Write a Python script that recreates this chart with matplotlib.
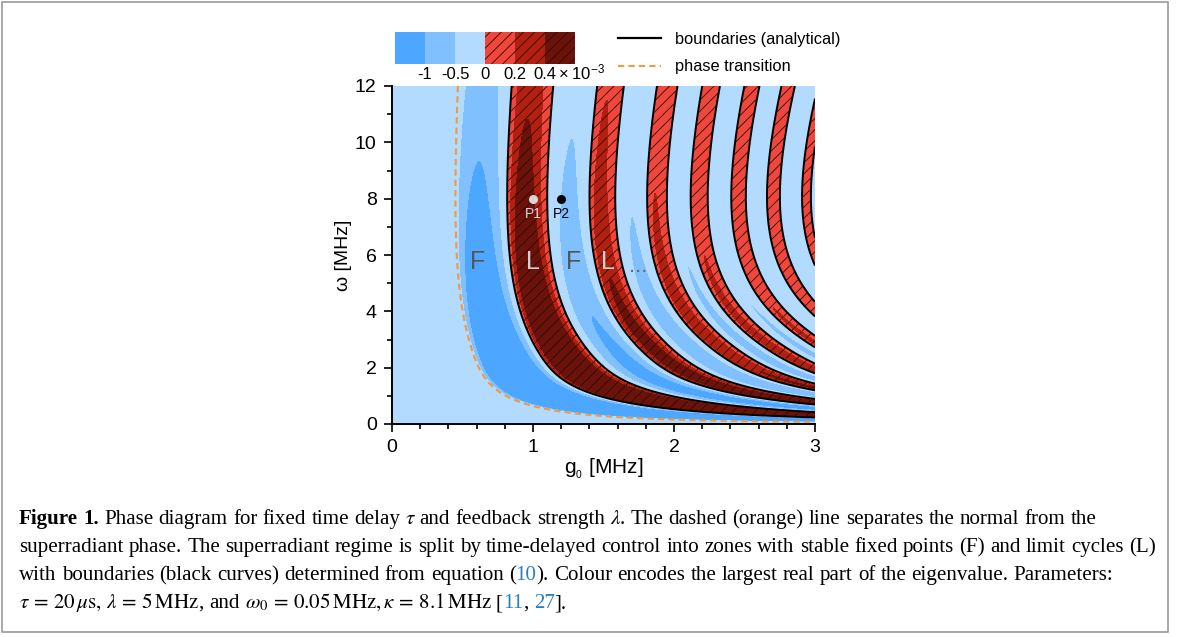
import numpy as np
import matplotlib.pyplot as plt
from matplotlib.lines import Line2D
from matplotlib.patches import Rectangle

plt.rcParams['font.family'] = ['Liberation Sans', 'DejaVu Sans']
plt.rcParams['mathtext.fontset'] = 'custom'
plt.rcParams['mathtext.rm'] = 'Liberation Sans'
plt.rcParams['mathtext.it'] = 'Liberation Sans:italic'
plt.rcParams['hatch.linewidth'] = 0.6
plt.rcParams['hatch.color'] = '#2b0b06'

# parameters from the caption (MHz, microseconds)
tau = 20.0
lam = 5.0
omega0 = 0.05
kappa = 8.1

# colour scale: largest real part of the eigenvalue, units of 1e-3
levels = [-1.0, -0.5, 0.0, 0.2, 0.4]
level_labels = ['-1', '-0.5', '0', '0.2', '0.4']
colors = ['#4da6ff', '#80c0ff', '#b3daff', '#f0473c', '#b3200f', '#6b130a']
hatches = [None, None, None, '///', '///', '///']

# limit-cycle bands: start / end of each band in delay phase (units of pi)
band_start = [1.0, 3.07, 5.14, 7.05, 9.1, 11.12, 13.3, 15.4]
band_end = [1.88, 3.93, 5.97, 7.88, 9.9, 11.9, 13.88, 15.9]

# strength of the tongues
blue_amp = 6.0
red_amp = 7.1
amp_scale = 9.1
blue_power = 0.6
red_power = 0.9

# marked points and zone labels
point_g = [1.0, 1.2]
point_w = [8.0, 8.0]
point_names = ['P1', 'P2']
point_colors = ['#d6d6d6', 'black']
zone_g = [0.61, 1.0, 1.29, 1.53]
zone_w = 5.75
zone_text = ['F', 'L', 'F', 'L']
zone_colors = ['#555555', '#d0d0d0', '#555555', '#d0d0d0']

fig = plt.figure(figsize=(11.79, 6.37), dpi=100)
W_PX, H_PX = 1179, 637

ax = fig.add_axes([392 / W_PX, 1 - 424 / H_PX, 423 / W_PX, 338 / H_PX])

g = np.linspace(0, 3, 900)
w = np.linspace(0.001, 12, 760)
G, W = np.meshgrid(g, w)
k2 = kappa**2 - 15.0 / (1 + (W / 2.2)**4)
r = 4 * W * G**2 / (omega0 * (k2 + W**2))
phi = tau * omega0 * np.sqrt(np.clip(r**2 - 1, 0, None))
psi = phi / np.pi

edges = np.ravel(np.column_stack([band_start, band_end]))
lower = np.concatenate([[0.0], edges])
upper = np.concatenate([edges, [edges[-1] + 2]])
idx = np.searchsorted(edges, psi, side='right')
frac = (psi - lower[idx]) / (upper[idx] - lower[idx])
mid = np.pi * (lower[idx] + upper[idx]) / 2
red = (idx % 2) == 1
s_red = np.sin(np.pi * frac) * np.exp(-frac) / 0.637
s_blue = np.sin(np.pi * frac)
amp = np.exp(-W / amp_scale)
E = np.where(red,
             red_amp * amp * (mid + 2)**(-red_power) * s_red,
             -blue_amp * amp * (mid + 2)**(-blue_power) * s_blue)
E = np.where(r < 1, -0.25, E)

bounds = [-100] + levels + [100]
ax.contourf(G, W, E, levels=bounds, colors=colors, hatches=hatches)

ax.contour(G, W, np.where(r < 1, 0, psi), levels=edges, colors='black', linewidths=1.4)
ax.contour(G, W, r, levels=[1], colors='#f39a3a', linewidths=1.5, linestyles=[(0, (3, 2))])

for i in range(len(zone_text)):
    ax.text(zone_g[i], zone_w, zone_text[i], fontsize=18, color=zone_colors[i], ha='center', va='center')
ax.text(1.745, 5.6, '...', fontsize=16, color='#666666', ha='center', va='center')

for i in range(len(point_names)):
    ax.plot(point_g[i], point_w[i], 'o', color=point_colors[i], markersize=6.5, markeredgewidth=0)
    ax.text(point_g[i], point_w[i] - 0.55, point_names[i], fontsize=10, color=point_colors[i],
            ha='center', va='center')

ax.set_xlim(0, 3)
ax.set_ylim(0, 12)
ax.set_xticks([0, 1, 2, 3])
ax.set_xticks(np.arange(0, 3.01, 0.2), minor=True)
ax.set_yticks(np.arange(0, 13, 2))
ax.set_yticks(np.arange(0, 13, 1), minor=True)
ax.tick_params(which='both', direction='out', width=1.2, labelsize=14)
ax.tick_params(which='major', length=6, pad=5)
ax.tick_params(which='minor', length=3.5)
for side in ['top', 'right']:
    ax.spines[side].set_visible(False)
for side in ['left', 'bottom']:
    ax.spines[side].set_linewidth(1.4)
ax.set_xlabel('g$_{_0}$ [MHz]', fontsize=15, labelpad=0)
ax.set_ylabel('ω [MHz]', fontsize=14, labelpad=2)

# colour scale boxes
cax = fig.add_axes([395 / W_PX, 1 - 64 / H_PX, 180 / W_PX, 32 / H_PX])
for i in range(len(colors)):
    cax.bar(i, 1, width=1, color=colors[i], hatch=hatches[i], linewidth=0)
cax.set_xlim(-0.5, len(colors) - 0.5)
cax.set_ylim(0, 1)
cax.set_xticks(np.arange(len(levels)) + 0.5)
cax.set_xticklabels(level_labels, fontsize=12)
cax.tick_params(length=0, pad=2)
cax.set_yticks([])
for s in cax.spines.values():
    s.set_visible(False)
fig.text(558 / W_PX, 1 - 79 / H_PX, r'$\times\;10^{-3}$', fontsize=12, ha='left', va='baseline')

handles = [Line2D([], [], color='black', lw=1.6),
           Line2D([], [], color='#f39a3a', lw=1.5, linestyle=(0, (3, 2)))]
fig.legend(handles, ['boundaries (analytical)', 'phase transition'], loc='upper left',
           bbox_to_anchor=(618 / W_PX, 1 - 32 / H_PX), frameon=False, fontsize=11.8,
           handlelength=2.65, labelspacing=0.76, handletextpad=0.8, borderpad=0,
           borderaxespad=0)

# caption
renderer = fig.canvas.get_renderer()
blue = '#2a7fc1'
NORM = {}
BOLD = {'fontweight': 'bold'}
MATH = {'math_fontfamily': 'stix'}


def advance(s, size, kw):
    t1 = fig.text(0, 0, '|' + s + '|', fontsize=size, family='Liberation Serif', **kw)
    t2 = fig.text(0, 0, '||', fontsize=size, family='Liberation Serif', **kw)
    wd = t1.get_window_extent(renderer).width - t2.get_window_extent(renderer).width
    t1.remove()
    t2.remove()
    return wd


def draw_line(x0, y0, pieces, size):
    x = x0
    space = advance(' ', size, NORM)
    for text, kw, col in pieces:
        words = text.split(' ')
        for j, word in enumerate(words):
            if j > 0:
                x += space
            if word == '':
                continue
            fig.text(x / W_PX, 1 - y0 / H_PX, word, fontsize=size, family='Liberation Serif',
                     color=col, ha='left', va='baseline', **kw)
            x += advance(word, size, kw)


cap_lines = [
    [('Figure 1.', BOLD, 'black'), (' Phase diagram for fixed time delay ', NORM, 'black'),
     (r'$\it{\tau}$', MATH, 'black'), (' and feedback strength ', NORM, 'black'),
     (r'$\it{\lambda}$', MATH, 'black'),
     ('. The dashed (orange) line separates the normal from the', NORM, 'black')],
    [('superradiant phase. The superradiant regime is split by time-delayed control into zones '
      'with stable fixed points (F) and limit cycles (L)', NORM, 'black')],
    [('with boundaries (black curves) determined from equation (', NORM, 'black'),
     ('10', NORM, blue),
     ('). Colour encodes the largest real part of the eigenvalue. Parameters:', NORM, 'black')],
    [(r'$\tau\,=\,20\,\mu\mathrm{s},\,\lambda\,=\,5\,\mathrm{MHz}$', MATH, 'black'),
     (', and ', NORM, 'black'),
     (r'$\omega_0\,=\,0.05\,\mathrm{MHz},\kappa\,=\,8.1\,\mathrm{MHz}$', MATH, 'black'),
     (' [', NORM, 'black'), ('11', NORM, blue), (',', NORM, 'black'), (' 27', NORM, blue),
     ('].', NORM, 'black')],
]
cap_size = 13.5 * 1138 / advance(cap_lines[1][0][0], 13.5, NORM)
for i, line in enumerate(cap_lines):
    draw_line(19, 524 + 28 * i, line, cap_size)

fig.add_artist(Rectangle((2 / W_PX, 5 / H_PX), 1166 / W_PX, 630 / H_PX, transform=fig.transFigure,
                         fill=False, edgecolor='#9a9a9a', linewidth=1.2))

fig.savefig('out.png', dpi=100)
